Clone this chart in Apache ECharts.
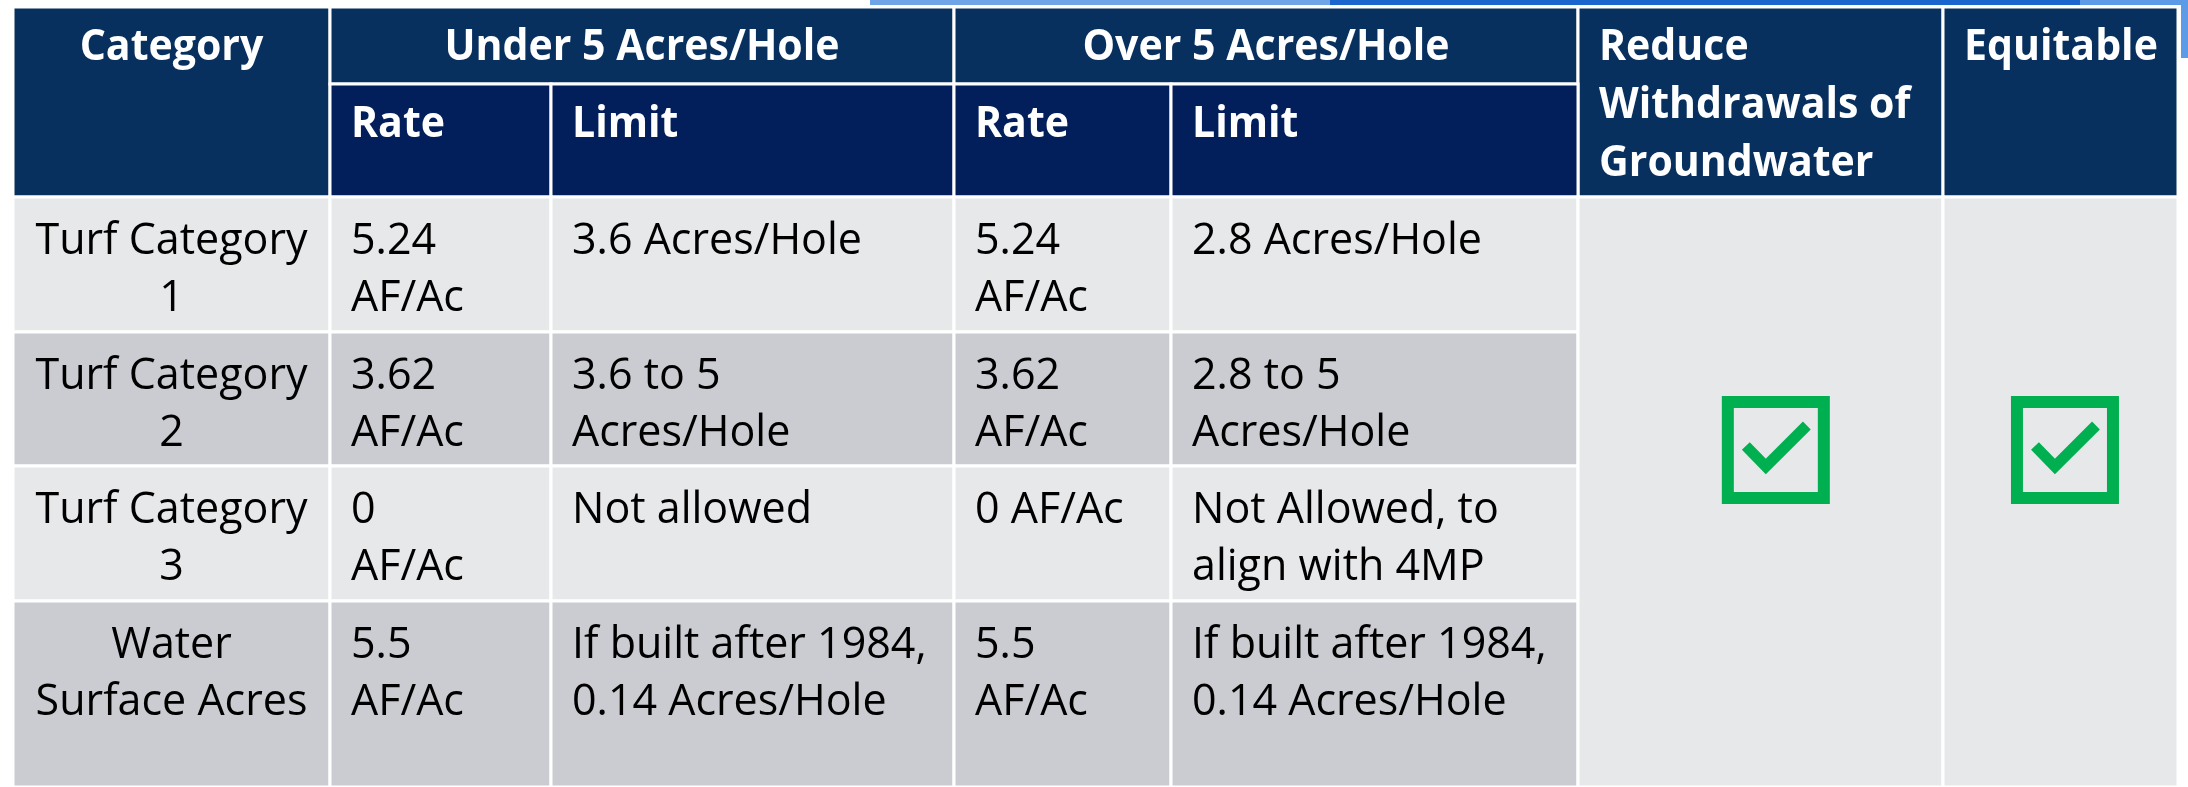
<!DOCTYPE html>
<html><head><meta charset="utf-8">
<script src="https://cdn.jsdelivr.net/npm/echarts@6/dist/echarts.min.js"></script>
<style>html,body{margin:0;padding:0;background:#fff}#c{width:2188px;height:787px}</style>
</head><body><div id="c"></div>
<script>
// ---------- table content ----------
const groupHeaders = ['Under 5 Acres/Hole', 'Over 5 Acres/Hole'];
const sideHeaders = ['Category', 'Reduce\nWithdrawals of\nGroundwater', 'Equitable'];
const subHeaders = ['Rate', 'Limit', 'Rate', 'Limit'];
const categories = ['Turf Category\n1', 'Turf Category\n2', 'Turf Category\n3', 'Water\nSurface Acres'];
const under5Rate = ['5.24\nAF/Ac', '3.62\nAF/Ac', '0\nAF/Ac', '5.5\nAF/Ac'];
const under5Limit = ['3.6 Acres/Hole', '3.6 to 5\nAcres/Hole', 'Not allowed', 'If built after 1984,\n0.14 Acres/Hole'];
const over5Rate = ['5.24\nAF/Ac', '3.62\nAF/Ac', '0 AF/Ac', '5.5\nAF/Ac'];
const over5Limit = ['2.8 Acres/Hole', '2.8 to 5\nAcres/Hole', 'Not Allowed, to\nalign with 4MP', 'If built after 1984,\n0.14 Acres/Hole'];
const goalsMet = [true, true]; // Reduce Withdrawals of Groundwater, Equitable

// ---------- layout & style ----------
const W = 2188, H = 787;
const colEdges = [13, 330, 551, 954, 1171, 1578, 1943, 2178];
const rowEdges = [7, 84, 197, 332, 466, 601, 787];
const HEAD = '#07305F', SUB = '#021F5B', LIGHT = '#E7E8EA', DARK = '#CBCCD1', GREEN = '#00B050';
const FONT = '"Open Sans", "Noto Sans", sans-serif';
const FS = 43, PAD = 21, MID_SHIFT = 0.36;
const HEAD_BASE = 56, HEAD_GAP = 58, BODY_BASE = 60, BODY_GAP = 57;
const HEAD_SCALE = 0.955;
const checkFrac = [0.542, 0.519];
const CHECK_TOP = 199, BOX = 108, BOX_W = 12;

// ---------- build cells ----------
const cells = [];
function cell(c0, c1, r0, r1, fill, text, opt) {
  cells.push(Object.assign({c0, c1, r0, r1, fill, text, align: 'left', bold: false, color: '#000'}, opt || {}));
}
cell(0, 1, 0, 2, HEAD, sideHeaders[0], {align: 'center', bold: true, color: '#fff'});
cell(1, 3, 0, 1, HEAD, groupHeaders[0], {align: 'center', bold: true, color: '#fff'});
cell(3, 5, 0, 1, HEAD, groupHeaders[1], {align: 'center', bold: true, color: '#fff'});
cell(5, 6, 0, 2, HEAD, sideHeaders[1], {bold: true, color: '#fff'});
cell(6, 7, 0, 2, HEAD, sideHeaders[2], {bold: true, color: '#fff'});
subHeaders.forEach((t, i) => cell(i + 1, i + 2, 1, 2, SUB, t, {bold: true, color: '#fff'}));
const bodyCols = [categories, under5Rate, under5Limit, over5Rate, over5Limit];
categories.forEach((_, i) => {
  const fill = i % 2 === 0 ? LIGHT : DARK;
  bodyCols.forEach((col, j) => cell(j, j + 1, i + 2, i + 3, fill, col[i], {align: j === 0 ? 'center' : 'left'}));
});
goalsMet.forEach((ok, k) => cell(5 + k, 6 + k, 2, 2 + categories.length, LIGHT, '', {check: ok, frac: checkFrac[k]}));

function renderItem(params, api) {
  const c = cells[params.dataIndex];
  const p0 = api.coord([colEdges[c.c0], rowEdges[c.r0]]);
  const p1 = api.coord([colEdges[c.c1], rowEdges[c.r1]]);
  const x0 = p0[0], y0 = p0[1], x1 = p1[0], y1 = p1[1];
  const children = [{
    type: 'rect', shape: {x: x0, y: y0, width: x1 - x0, height: y1 - y0},
    style: {fill: c.fill, stroke: '#fff', lineWidth: 3}
  }];
  if (c.text) {
    const base0 = c.bold ? HEAD_BASE : BODY_BASE, gap = c.bold ? HEAD_GAP : BODY_GAP;
    c.text.split('\n').forEach((line, k) => {
      const base = y0 + base0 + k * gap;
      const ax = c.align === 'center' ? (x0 + x1) / 2 : x0 + PAD;
      children.push({
        type: 'text', x: ax, y: base - MID_SHIFT * FS,
        scaleX: c.bold ? HEAD_SCALE : 1,
        style: {text: line, x: 0, y: 0, fill: c.color, fontSize: FS, fontFamily: FONT,
          fontWeight: c.bold ? 'bold' : 'normal', align: c.align, verticalAlign: 'middle'}
      });
    });
  }
  if (c.check) {
    const bx = x0 + (x1 - x0) * c.frac - BOX / 2, by = y0 + CHECK_TOP;
    children.push({
      type: 'rect', shape: {x: bx + BOX_W / 2, y: by + BOX_W / 2, width: BOX - BOX_W, height: BOX - BOX_W},
      style: {fill: 'none', stroke: GREEN, lineWidth: BOX_W}
    });
    children.push({
      type: 'polyline', shape: {points: [[bx + 24, by + 50], [bx + 44, by + 70.5], [bx + 85, by + 29.5]]},
      style: {fill: 'none', stroke: GREEN, lineWidth: 11, lineJoin: 'miter', lineCap: 'butt'}
    });
  }
  return {type: 'group', children};
}

const chart = echarts.init(document.getElementById('c'), null, {renderer: 'canvas'});
chart.setOption({
  animation: false,
  backgroundColor: '#fff',
  grid: {left: 0, right: 0, top: 0, bottom: 0},
  xAxis: {type: 'value', min: 0, max: W, show: false},
  yAxis: {type: 'value', min: 0, max: H, inverse: true, show: false},
  graphic: [
    {type: 'rect', shape: {x: 870, y: 0, width: 460, height: 5}, style: {fill: '#6FA5E6'}, silent: true},
    {type: 'rect', shape: {x: 1330, y: 0, width: 750, height: 5}, style: {fill: '#1A66CC'}, silent: true},
    {type: 'rect', shape: {x: 2080, y: 0, width: 108, height: 5}, style: {fill: '#5D9BE6'}, silent: true},
    {type: 'rect', shape: {x: 2181, y: 0, width: 7, height: 58}, style: {fill: '#5D9BE6'}, silent: true}
  ],
  series: [{
    type: 'custom',
    renderItem: renderItem,
    data: cells.map((c, i) => [i]),
    encode: {x: -1, y: -1},
    clip: false
  }]
});
</script></body></html>
